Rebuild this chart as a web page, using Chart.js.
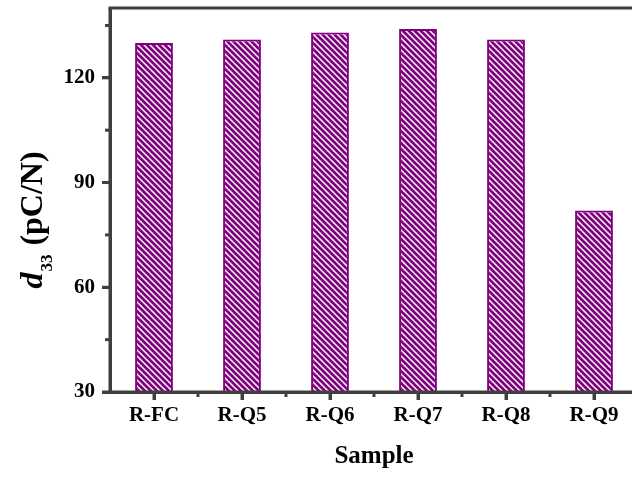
<!DOCTYPE html>
<html>
<head>
<meta charset="utf-8">
<script src="https://cdn.jsdelivr.net/npm/chart.js@4/dist/chart.umd.min.js"></script>
<style>
  html, body { margin: 0; padding: 0; background: #ffffff; overflow: hidden; }
  #wrap { width: 650px; height: 477px; }
</style>
</head>
<body>
<div id="wrap"><canvas id="c" width="650" height="477"></canvas></div>
<script>
const categories = ['R-FC', 'R-Q5', 'R-Q6', 'R-Q7', 'R-Q8', 'R-Q9'];
const d33Values = [130, 131, 133, 134, 131, 82];
const yTickValues = [30, 60, 90, 120];
const yMinorTicks = [45, 75, 105, 135];
const yMin = 30;
const yMax = 140;
const xTitle = 'Sample';
const yTitleParts = ['d', '33', ' (pC/N)'];

const PURPLE = '#800080';
const AXIS = '#3f3f3f';
const FONT = '"Liberation Serif", "Times New Roman", serif';

function makeHatch() {
  const s = 6;
  const c = document.createElement('canvas');
  c.width = s; c.height = s;
  const g = c.getContext('2d');
  g.fillStyle = '#ffffff';
  g.fillRect(0, 0, s, s);
  g.strokeStyle = PURPLE;
  g.lineWidth = 2.7;
  for (let k = -1; k <= 1; k++) {
    g.beginPath();
    g.moveTo(-2, -2 + k * s);
    g.lineTo(s + 2, s + 2 + k * s);
    g.stroke();
  }
  return g.createPattern(c, 'repeat');
}

const extras = {
  id: 'extras',
  afterDraw(chart) {
    const ctx = chart.ctx;
    const a = chart.chartArea;
    const xs = chart.scales.x;
    const ys = chart.scales.y;
    ctx.save();
    ctx.strokeStyle = AXIS;
    ctx.lineWidth = 3;
    ctx.lineCap = 'butt';
    // top frame line
    ctx.beginPath();
    ctx.moveTo(a.left - 1.5, a.top);
    ctx.lineTo(a.right + 1.5, a.top);
    ctx.stroke();
    // redraw bottom and left axis over bars
    ctx.beginPath();
    ctx.moveTo(a.left - 1.5, a.bottom);
    ctx.lineTo(a.right + 1.5, a.bottom);
    ctx.stroke();
    ctx.beginPath();
    ctx.moveTo(a.left, a.top);
    ctx.lineTo(a.left, a.bottom + 1.5);
    ctx.stroke();
    // major ticks on y
    yTickValues.forEach(v => {
      const p = ys.getPixelForValue(v);
      ctx.beginPath();
      ctx.moveTo(a.left, p);
      ctx.lineTo(a.left - 8, p);
      ctx.stroke();
    });
    // minor ticks on y
    yMinorTicks.forEach(v => {
      const p = ys.getPixelForValue(v);
      ctx.beginPath();
      ctx.moveTo(a.left, p);
      ctx.lineTo(a.left - 5, p);
      ctx.stroke();
    });
    // major ticks on x at category centres, minor ticks at boundaries
    for (let i = 0; i < categories.length; i++) {
      const p1 = xs.getPixelForValue(i);
      ctx.beginPath();
      ctx.moveTo(p1, a.bottom);
      ctx.lineTo(p1, a.bottom + 8);
      ctx.stroke();
      const p2 = i + 1 < categories.length ? xs.getPixelForValue(i + 1) : p1 + (p1 - xs.getPixelForValue(i - 1));
      const m = (p1 + p2) / 2;
      ctx.beginPath();
      ctx.moveTo(m, a.bottom);
      ctx.lineTo(m, a.bottom + 5);
      ctx.stroke();
    }
    // y title with italic d and subscript 33
    const fMain = 'bold 32px ' + FONT;
    const fItal = 'italic bold 32px ' + FONT;
    const fSub = 'bold 17px ' + FONT;
    ctx.font = fItal; const w0 = ctx.measureText(yTitleParts[0]).width;
    ctx.font = fSub; const w1 = ctx.measureText(yTitleParts[1]).width;
    ctx.font = fMain; const w2 = ctx.measureText(yTitleParts[2]).width;
    const total = w0 + w1 + 2 + w2;
    ctx.translate(42, 220);
    ctx.rotate(-Math.PI / 2);
    ctx.fillStyle = '#000000';
    ctx.textBaseline = 'alphabetic';
    ctx.textAlign = 'left';
    let x = -total / 2;
    ctx.font = fItal; ctx.fillText(yTitleParts[0], x, 0); x += w0 + 1;
    ctx.font = fSub; ctx.fillText(yTitleParts[1], x, 10); x += w1 + 1;
    ctx.font = fMain; ctx.fillText(yTitleParts[2], x, 0);
    ctx.restore();
  }
};

new Chart(document.getElementById('c'), {
  type: 'bar',
  data: {
    labels: categories,
    datasets: [{
      label: 'd33',
      data: d33Values,
      backgroundColor: makeHatch(),
      borderColor: PURPLE,
      borderWidth: 2,
      borderSkipped: false,
      categoryPercentage: 1.0,
      barPercentage: 0.43
    }]
  },
  options: {
    responsive: false,
    animation: false,
    devicePixelRatio: 1,
    layout: { padding: { top: 8, right: 12, bottom: 0, left: 0 } },
    plugins: { legend: { display: false }, tooltip: { enabled: false } },
    scales: {
      x: {
        offset: true,
        afterFit: s => { s.height = 85; s.paddingLeft = 0; s.paddingRight = 0; },
        grid: { display: true, offset: false, drawOnChartArea: false, drawTicks: true, tickLength: 8, tickWidth: 3, tickColor: AXIS },
        border: { display: true, width: 3, color: AXIS },
        ticks: { color: '#000', padding: 3, maxRotation: 0, font: { family: FONT, size: 21, weight: 'bold' } },
        title: { display: true, text: xTitle, color: '#000', padding: { top: 0, bottom: 5 }, font: { family: FONT, size: 25, weight: 'bold' } }
      },
      y: {
        min: yMin,
        max: yMax,
        afterFit: s => { s.width = 110; s.paddingTop = 0; s.paddingBottom = 0; },
        afterBuildTicks: s => { s.ticks = yTickValues.map(v => ({ value: v })); },
        grid: { display: true, drawOnChartArea: false, drawTicks: true, tickLength: 8, tickWidth: 3, tickColor: AXIS },
        border: { display: true, width: 3, color: AXIS },
        ticks: { color: '#000', padding: 7, font: { family: FONT, size: 21, weight: 'bold' } }
      }
    }
  },
  plugins: [extras]
});
</script>
</body>
</html>
